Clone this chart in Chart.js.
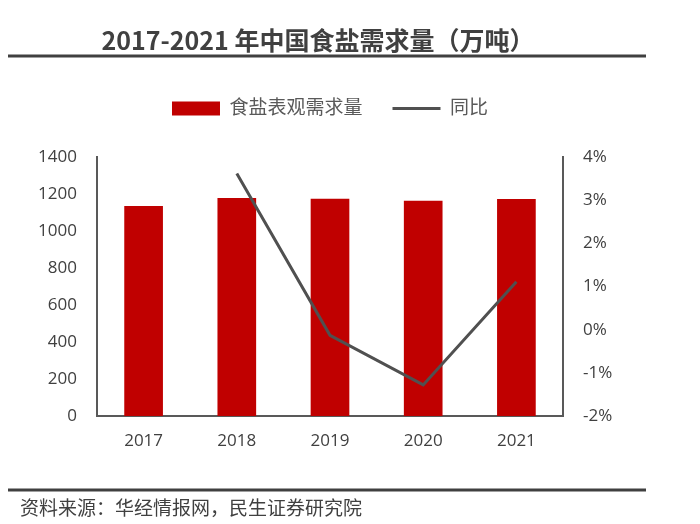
<!DOCTYPE html>
<html>
<head>
<meta charset="utf-8">
<script src="https://cdn.jsdelivr.net/npm/chart.js@4"></script>
<style>
  html, body { margin: 0; padding: 0; background: #fff; }
  #wrap { width: 700px; height: 524px; position: relative; }
</style>
</head>
<body>
<div id="wrap"><canvas id="saltChart" width="700" height="524"></canvas></div>
<script>
const years = ['2017', '2018', '2019', '2020', '2021'];
const demand = [1135, 1179, 1175, 1163, 1173];
const yoy = [null, 3.62, -0.13, -1.28, 1.11];
const leftTicks = [0, 200, 400, 600, 800, 1000, 1200, 1400];
const rightTicks = [-2, -1, 0, 1, 2, 3, 4];

const titleText = '2017-2021 年中国食盐需求量（万吨）';
const sourceText = '资料来源：华经情报网，民生证券研究院';

const cjk = '"Open Sans", "Noto Sans CJK SC", sans-serif';

// title, rules and source note
const framePlugin = {
  id: 'frame',
  beforeInit(chart) {
    const fit = chart.legend.fit;
    chart.legend.fit = function () {
      fit.call(this);
      this.height = 88;
    };
  },
  afterDraw(chart) {
    const ctx = chart.ctx;
    ctx.save();
    ctx.fillStyle = '#404040';
    ctx.font = 'bold 25px "Noto Sans CJK SC", sans-serif';
    ctx.textAlign = 'center';
    ctx.textBaseline = 'middle';
    ctx.fillText(titleText, 318, 40);

    ctx.strokeStyle = '#404040';
    ctx.lineWidth = 3;
    ctx.beginPath();
    ctx.moveTo(8, 56);
    ctx.lineTo(646, 56);
    ctx.moveTo(8, 490);
    ctx.lineTo(646, 490);
    ctx.stroke();

    ctx.font = '19px "Noto Sans CJK SC", sans-serif';
    ctx.textAlign = 'left';
    ctx.fillText(sourceText, 20, 508);
    ctx.restore();
  }
};

const tickFont = { family: '"Open Sans", sans-serif', size: 17 };

new Chart(document.getElementById('saltChart'), {
  data: {
    labels: years,
    datasets: [{
      type: 'bar',
      label: '食盐表观需求量',
      data: demand,
      backgroundColor: '#C00000',
      borderWidth: 0,
      barPercentage: 0.415,
      categoryPercentage: 1,
      pointStyle: 'rect',
      yAxisID: 'y',
      order: 2
    }, {
      type: 'line',
      label: '同比',
      data: yoy,
      borderColor: '#505050',
      backgroundColor: '#505050',
      borderWidth: 3,
      pointRadius: 0,
      pointStyle: 'line',
      tension: 0,
      yAxisID: 'y1',
      order: 1
    }]
  },
  options: {
    responsive: false,
    animation: false,
    layout: { padding: { top: 69, left: 0, right: 0, bottom: 0 } },
    plugins: {
      tooltip: { enabled: false },
      legend: {
        position: 'top',
        fullSize: false,
        labels: {
          usePointStyle: true,
          pointStyleWidth: 48,
          boxHeight: 14,
          padding: 30,
          color: '#595959',
          font: { family: cjk, size: 19 },
          sort: (a, b) => a.datasetIndex - b.datasetIndex
        }
      }
    },
    scales: {
      x: {
        grid: { display: false, drawTicks: false },
        border: { color: '#595959', width: 2 },
        ticks: { color: '#404040', padding: 15, font: tickFont },
        afterFit(scale) { scale.height = 108; }
      },
      y: {
        position: 'left',
        min: 0,
        max: 1400,
        afterBuildTicks(scale) { scale.ticks = leftTicks.map(v => ({ value: v })); },
        grid: { display: false, drawTicks: false },
        border: { color: '#595959', width: 2 },
        ticks: { color: '#404040', padding: 20, font: tickFont, callback: v => String(v) },
        afterFit(scale) { scale.width = 97; }
      },
      y1: {
        position: 'right',
        min: -2,
        max: 4,
        afterBuildTicks(scale) { scale.ticks = rightTicks.map(v => ({ value: v })); },
        grid: { display: false, drawTicks: false },
        border: { color: '#595959', width: 2 },
        ticks: { color: '#404040', padding: 20, font: tickFont, callback: v => v + '%' },
        afterFit(scale) { scale.width = 137; }
      }
    }
  },
  plugins: [framePlugin]
});
</script>
</body>
</html>
